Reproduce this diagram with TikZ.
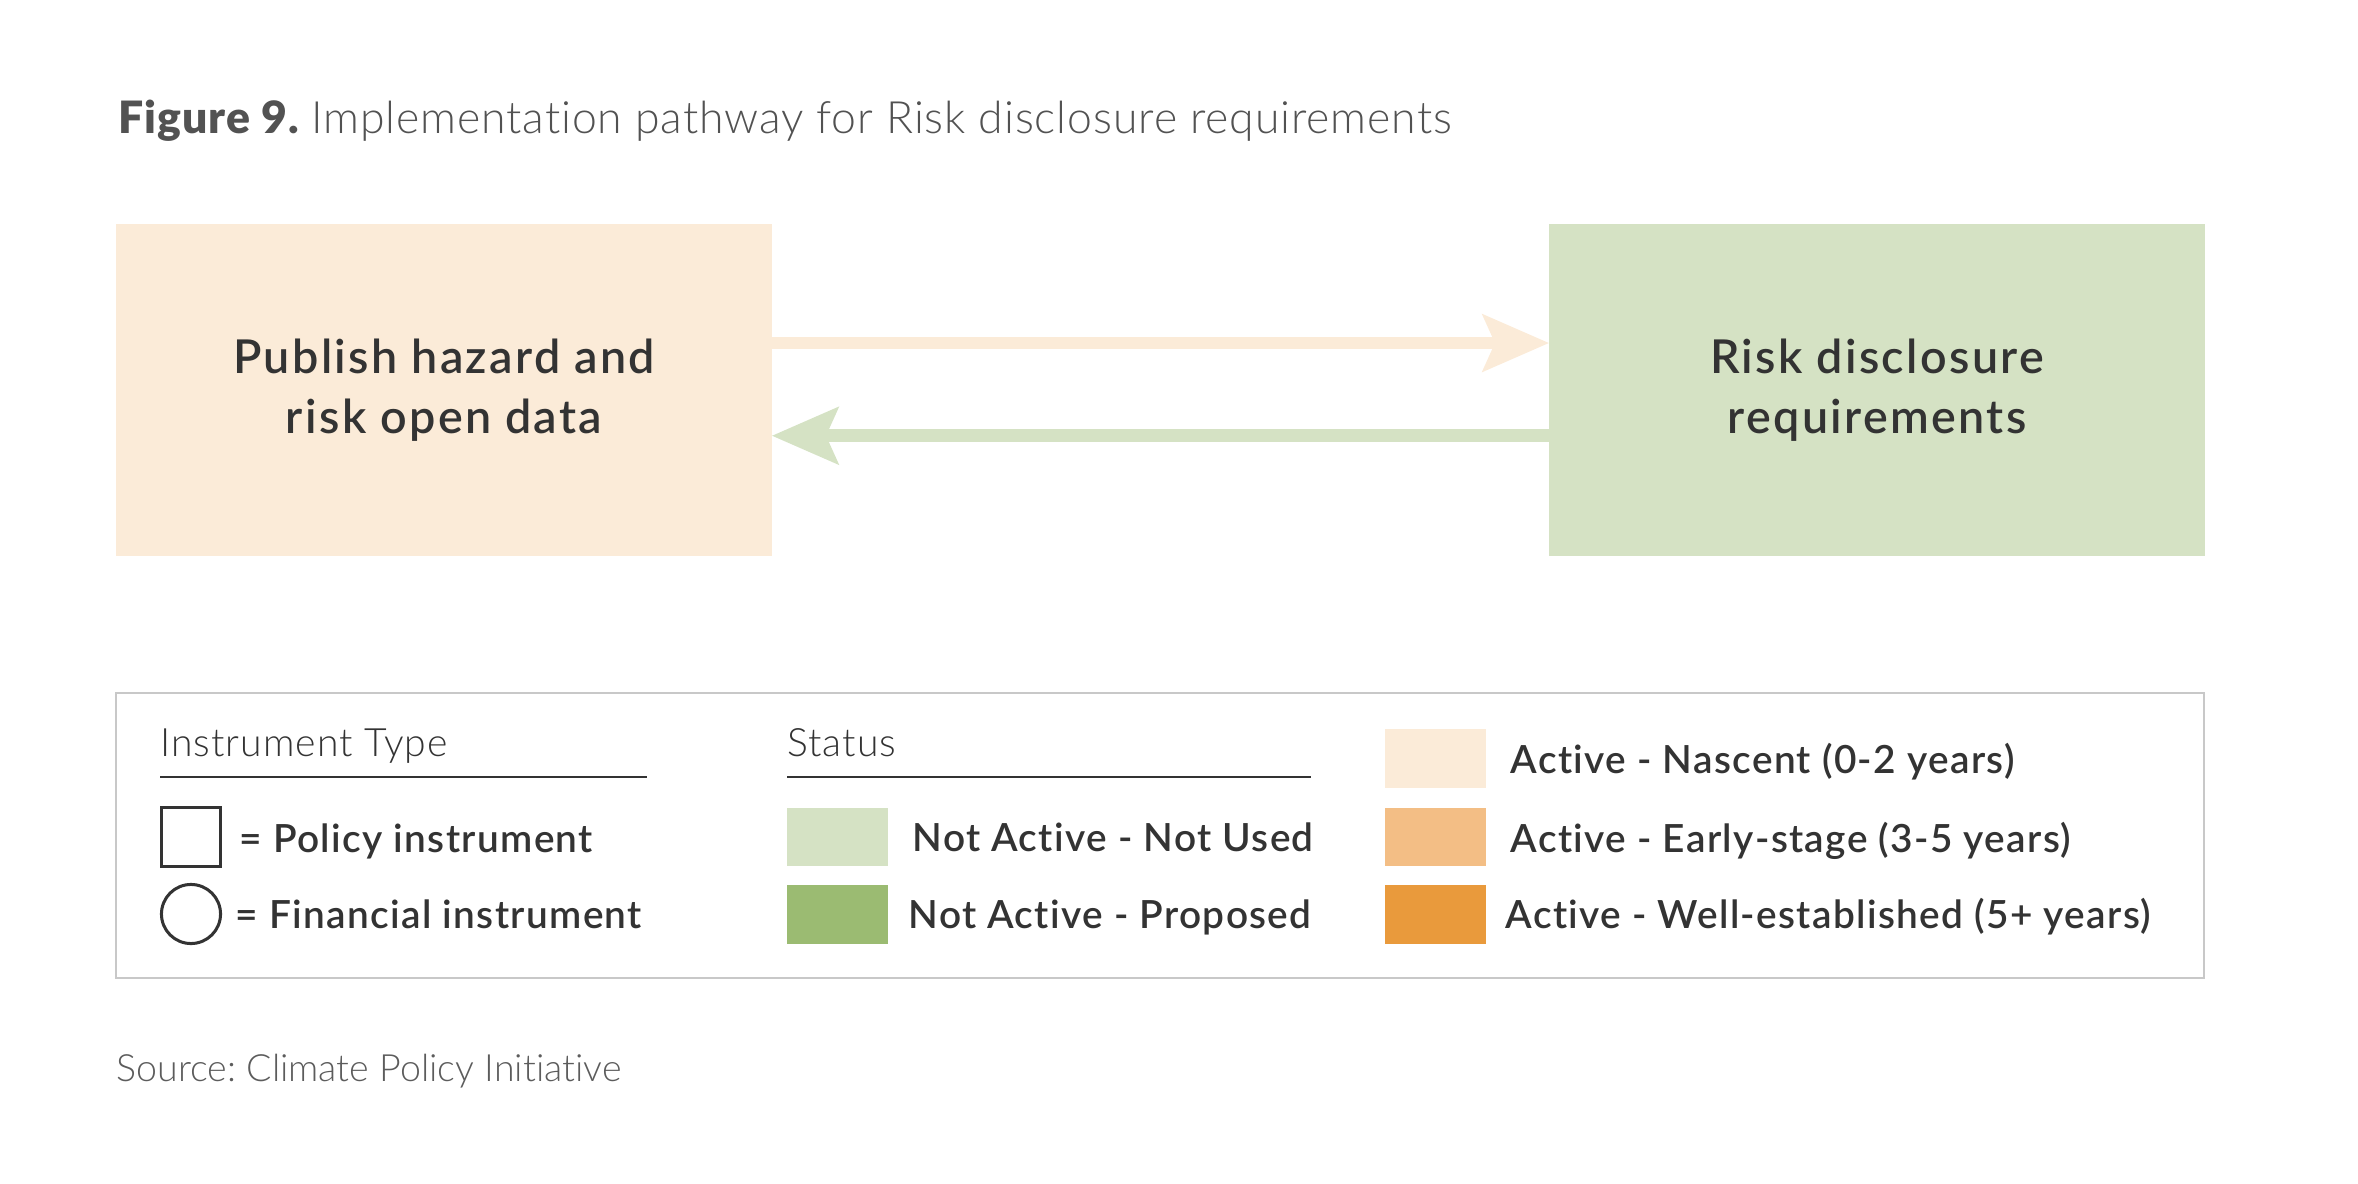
\documentclass[tikz,border=0pt]{standalone}
\usepackage{fontspec}
\usetikzlibrary{arrows.meta}
\defaultfontfeatures{Ligatures={TeX,NoCommon}}
\setmainfont{Lato}
\IfFontExistsTF{Lato Light}{\newfontfamily\lightfont{Lato Light}}{\newfontfamily\lightfont{Lato}}
\IfFontExistsTF{Lato Semibold}{\newfontfamily\semifont{Lato Semibold}}{\newfontfamily\semifont{Lato}[UprightFont=*-Bold]}

\definecolor{nascent}{HTML}{FBEBD8}
\definecolor{earlystage}{HTML}{F3BE85}
\definecolor{wellest}{HTML}{E99A3C}
\definecolor{notused}{HTML}{D5E2C4}
\definecolor{proposed}{HTML}{9BBB72}
\definecolor{ink}{HTML}{333333}
\definecolor{frame}{HTML}{C8C8C8}

\tikzset{
    pathbox/.style={minimum width=216.3pt, minimum height=109.5pt, inner sep=0pt, outer sep=0pt,
        align=center, text=ink, font=\semifont\addfontfeature{LetterSpace=5}\fontsize{15.4}{19.8}\selectfont},
    swatch/.style={minimum width=33.3pt, minimum height=19.3pt, inner sep=0pt, outer sep=0pt},
    legtext/.style={anchor=base west, inner sep=0pt, text=ink, font=\semifont\addfontfeature{LetterSpace=3.5}\fontsize{12.8}{14}\selectfont},
    legtitle/.style={anchor=base west, inner sep=0pt, text=ink, font=\lightfont\addfontfeature{LetterSpace=2.5}\fontsize{12.9}{14}\selectfont},
    fwdarrow/.style={draw=nascent, line width=4.2pt, -{Stealth[length=21.8pt, width=18.5pt, inset=3.9pt]}}
}

\begin{document}
\frenchspacing
\begin{tikzpicture}[x=0.33pt, y=-0.33pt]
    \useasboundingbox (0,0) rectangle (2358,1184);

    % Title
    \node [anchor=base west, inner sep=0pt, text=ink!85, font=\lightfont\addfontfeature{LetterSpace=2}\fontsize{14.7}{17}\selectfont] (title) at (118,134)
        {{\semifont\bfseries\addfontfeature{LetterSpace=2}Figure 9.} Implementation pathway for Risk disclosure requirements};

    % Pathway boxes
    \node [pathbox, fill=nascent] (hazard) at (444,390) {Publish hazard and\\risk open data};
    \node [pathbox, fill=notused] (disclose) at (1877,390) {Risk disclosure\\requirements};
    \draw [fwdarrow] ([yshift=15.5pt]hazard.east) -- ([yshift=15.5pt]disclose.west);
    \draw [fwdarrow, draw=notused] ([yshift=-15.1pt]disclose.west) -- ([yshift=-15.1pt]hazard.east);

    % Legend frame
    \draw [frame, line width=0.8pt] (116,693) rectangle (2204,978);

    % Instrument type
    \node [legtitle] (lit) at (160,756) {Instrument Type};
    \draw [ink, line width=0.5pt] (160,777) -- (647,777);
    \node [draw=ink, line width=1pt, minimum width=19.5pt, minimum height=19.5pt, inner sep=0pt] (sq) at (191,837) {};
    \node [draw=ink, line width=1pt, circle, minimum size=19.5pt, inner sep=0pt] (ci) at (191,914) {};
    \node [legtext] (lpol) at (239,852) {= Policy instrument};
    \node [legtext] (lfin) at (235,928) {= Financial instrument};

    % Status
    \node [legtitle] (lst) at (787,756) {Status};
    \draw [ink, line width=0.5pt] (787,777) -- (1311,777);
    \node [swatch, fill=notused] (snu) at (837.5,837) {};
    \node [swatch, fill=proposed] (spr) at (837.5,914.5) {};
    \node [legtext] (lnu) at (912,851) {Not Active - Not Used};
    \node [legtext] (lpr) at (908,928) {Not Active - Proposed};

    \node [swatch, fill=nascent] (sna) at (1435.5,758.5) {};
    \node [swatch, fill=earlystage] (sea) at (1435.5,837) {};
    \node [swatch, fill=wellest] (swe) at (1435.5,914.5) {};
    \node [legtext] (lna) at (1510,773) {Active - Nascent (0-2 years)};
    \node [legtext] (lea) at (1510,852) {Active - Early-stage (3-5 years)};
    \node [legtext] (lwe) at (1505,928) {Active - Well-established (5+ years)};

    % Source
    \node [anchor=base west, inner sep=0pt, text=ink!80, font=\lightfont\fontsize{12.4}{14}\selectfont] (src) at (116,1081)
        {Source: Climate Policy Initiative};
\end{tikzpicture}
\end{document}
